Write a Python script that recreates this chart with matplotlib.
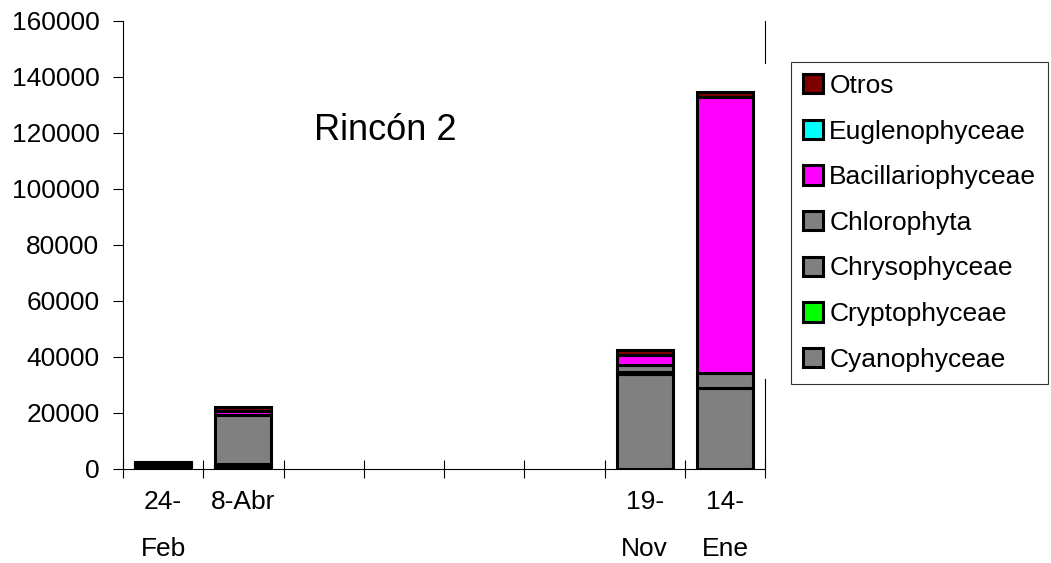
import matplotlib
matplotlib.use("Agg")
import matplotlib.pyplot as plt
from matplotlib.patches import Patch
from matplotlib.lines import Line2D
import numpy as np

plt.rcParams['font.family'] = ['Liberation Sans', 'DejaVu Sans']

categories = ["24-\nFeb", "8-Abr", "", "", "", "", "19-\nNov", "14-\nEne"]

series_names = ["Cyanophyceae", "Cryptophyceae", "Chrysophyceae", "Chlorophyta",
                "Bacillariophyceae", "Euglenophyceae", "Otros"]
cyanophyceae = [300, 800, 0, 0, 0, 0, 34000, 28900]
cryptophyceae = [1200, 400, 0, 0, 0, 0, 0, 0]
chrysophyceae = [300, 600, 0, 0, 0, 0, 600, 0]
chlorophyta = [400, 17500, 0, 0, 0, 0, 2400, 5400]
bacillariophyceae = [200, 1500, 0, 0, 0, 0, 3600, 98600]
euglenophyceae = [0, 0, 0, 0, 0, 0, 0, 0]
otros = [200, 1200, 0, 0, 0, 0, 2000, 1700]

colors = ["#808080", "#00FF00", "#808080", "#808080", "#FF00FF", "#00FFFF", "#800000"]
values = [cyanophyceae, cryptophyceae, chrysophyceae, chlorophyta,
          bacillariophyceae, euglenophyceae, otros]

fig = plt.figure(figsize=(10.51, 5.63), dpi=100)
ax = fig.add_axes([123 / 1051, 1 - 469 / 563, 642 / 1051, 448 / 563])

x = np.arange(len(categories))
bottom = np.zeros(len(categories))
for vals, col in zip(values, colors):
    v = np.array(vals, dtype=float)
    idx = v > 0
    if idx.any():
        ax.bar(x[idx], v[idx], bottom=bottom[idx], width=0.7, color=col,
               edgecolor="black", linewidth=2.2, zorder=3)
    bottom += v

ax.set_xlim(-0.5, len(categories) - 0.5)
ax.set_ylim(0, 160000)
ax.set_yticks(np.arange(0, 160001, 20000))
ax.set_yticklabels([str(v) for v in range(0, 160001, 20000)], fontsize=19)
ax.tick_params(axis="y", direction="out", length=7, width=0.8, pad=10, colors="black")

ax.set_xticks(x)
ax.set_xticklabels(categories, fontsize=19, linespacing=2.2, va="top")
ax.tick_params(axis="x", which="major", length=0, pad=15)
ax.set_xticks(np.arange(-0.5, len(categories)), minor=True)
ax.tick_params(axis="x", which="minor", direction="inout", length=13, width=0.8)

for s in ["top", "right"]:
    ax.spines[s].set_visible(False)
for s in ["left", "bottom"]:
    ax.spines[s].set_linewidth(0.8)

# right frame edge, interrupted beside the legend
ax.add_line(Line2D([1, 1], [1, (469 - 63) / 448], transform=ax.transAxes,
                   color="black", lw=0.8, clip_on=False))
ax.add_line(Line2D([1, 1], [(469 - 379) / 448, 0], transform=ax.transAxes,
                   color="black", lw=0.8, clip_on=False))

ax.text((385 - 123) / 642, (469 - 130) / 448, "Rincón 2", transform=ax.transAxes,
        ha="center", va="center", fontsize=26)

handles = [Patch(facecolor=c, edgecolor="black", linewidth=2.2) for c in colors][::-1]
labels = series_names[::-1]
leg = fig.legend(handles, labels, loc="upper left",
                 bbox_to_anchor=(791 / 1051, 1 - 62 / 563), borderaxespad=0,
                 fontsize=19, frameon=True, fancybox=False, edgecolor="black",
                 handlelength=0.75, handleheight=0.75, handletextpad=0.25,
                 labelspacing=0.82, borderpad=0.45)
leg.get_frame().set_linewidth(0.8)

fig.savefig("out.png", dpi=100)
